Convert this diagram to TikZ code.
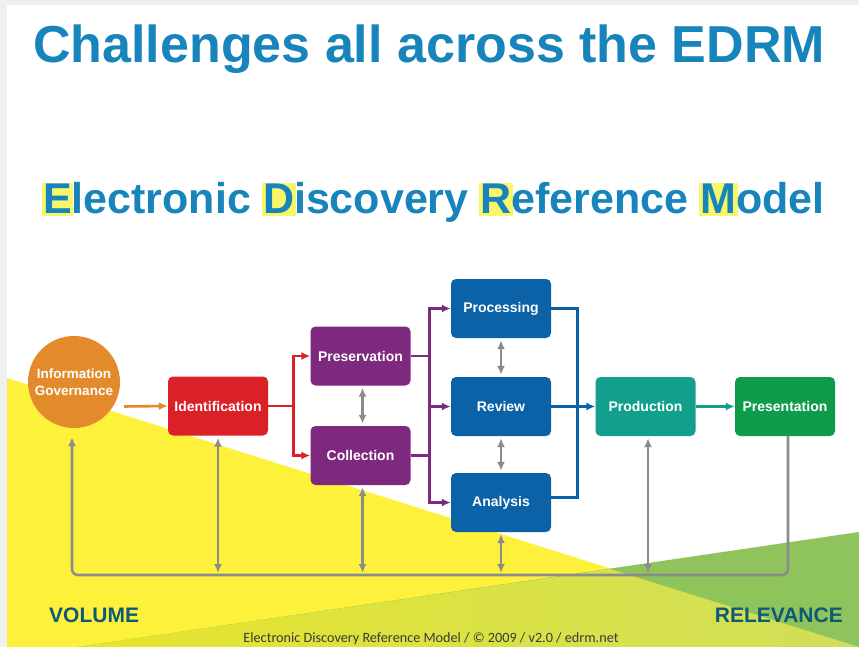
\documentclass[tikz,border=0pt]{standalone}
\usepackage{fontspec}
\setmainfont{Liberation Sans}
\newfontfamily\capfont{Carlito}
\usetikzlibrary{arrows.meta,calc}
\definecolor{bgyel}{HTML}{FDF13B}
\definecolor{bggrn}{HTML}{8FC45C}
\definecolor{ovl}{HTML}{E6E42C}
\definecolor{ovr}{HTML}{CFDF5A}
\definecolor{titleblue}{HTML}{1784BC}
\definecolor{hly}{HTML}{F8F66A}
\definecolor{cOrange}{HTML}{E38B2C}
\definecolor{cRed}{HTML}{DA2128}
\definecolor{cPurple}{HTML}{7D2A7E}
\definecolor{cBlue}{HTML}{0B62A6}
\definecolor{cTeal}{HTML}{12A08C}
\definecolor{cGreen}{HTML}{0E9B4B}
\definecolor{cGray}{HTML}{8C8C8C}
\definecolor{lblue}{HTML}{0E5878}
\definecolor{capgray}{HTML}{3A3A3A}
\newcommand{\hlet}[1]{\setbox0\hbox{#1}\rlap{\kern-1.5pt\textcolor{hly}{\rule[-2pt]{\dimexpr\wd0+3pt\relax}{\dimexpr\ht0+3.5pt\relax}}}\box0}
\tikzset{
  stagebox/.style={rectangle, rounded corners=5pt, minimum width=100pt, minimum height=59pt,
    inner sep=0pt, text=white, font=\bfseries\fontsize{14}{16}\selectfont},
  conn/.style={line width=2.6pt, -{Latex[length=9pt,width=8pt]}},
  plainconn/.style={line width=2.6pt},
  twoway/.style={line width=2.6pt, cGray, {Latex[length=9pt,width=8pt]}-{Latex[length=9pt,width=8pt]}},
}
\begin{document}
\begin{tikzpicture}[x=1pt,y=-1pt]
\useasboundingbox (0,0) rectangle (859,647);
% background
\fill[white] (0,0) rectangle (859,647);
\fill[gray!12] (0,0) rectangle (859,5);
\fill[gray!12] (0,0) rectangle (7,647);
\fill[bgyel] (7,378) -- (7,647) -- (859,647) -- cycle;
\fill[bggrn] (859,532) -- (859,647) -- (77,647) -- cycle;
\shade[left color=ovl, right color=ovr] (77,647) -- (610,569) -- (859,647) -- cycle;
% titles
\node[anchor=base west, inner sep=0pt, text=titleblue, font=\bfseries\fontsize{52}{60}\selectfont] (title) at (33,63) {Challenges all across the EDRM};
\node[anchor=base west, inner sep=0pt, text=titleblue, font=\bfseries\fontsize{43}{50}\selectfont] (subtitle) at (43,214)
  {\hlet{E}lectronic \hlet{D}iscovery \hlet{R}eference \hlet{M}odel};
% nodes
\node[circle, fill=cOrange, minimum size=92pt, inner sep=0pt, text=white, align=center,
  font=\bfseries\fontsize{13.5}{17}\selectfont] (ig) at (74,382) {Information\\Governance};
\node[stagebox, fill=cRed] (id) at (218,406) {Identification};
\node[stagebox, fill=cPurple] (pres) at (360.5,356) {Preservation};
\node[stagebox, fill=cPurple] (coll) at (360.5,455.5) {Collection};
\node[stagebox, fill=cBlue] (proc) at (501,308.5) {Processing};
\node[stagebox, fill=cBlue] (rev) at (501,406.5) {Review};
\node[stagebox, fill=cBlue] (anal) at (501,502.5) {Analysis};
\node[stagebox, fill=cTeal] (prod) at (645.5,406.5) {Production};
\node[stagebox, fill=cGreen] (presn) at (785,406.5) {Presentation};
% orange
\coordinate (igout) at (124,406.5);
\draw[conn, cOrange] (igout) -- (id.west);
% red fork
\draw[plainconn, cRed] (id.east) -- ++(25,0) coordinate (rf);
\draw[conn, cRed] (rf) |- (pres.west);
\draw[conn, cRed] (rf) |- (coll.west);
% purple fork
\draw[plainconn, cPurple] (pres.east) -- ++(19,0) coordinate (pf1);
\draw[plainconn, cPurple] (coll.east) -- ++(19,0) coordinate (pf2);
\draw[plainconn, cPurple] (pf1) -- (pf2);
\draw[conn, cPurple] (pf1) |- (proc.west);
\draw[conn, cPurple] (pf2) |- (anal.west);
\draw[conn, cPurple] (pf1 |- rev.west) -- (rev.west);
% blue bracket
\draw[plainconn, cBlue] (proc.east) -- ++(26,0) coordinate (bf) |- ([yshift=5pt]anal.east);
\draw[conn, cBlue] (rev.east) -- (prod.west);
% teal
\draw[conn, cTeal] (prod.east) -- (presn.west);
% gray two-way between stages
\draw[twoway] ([xshift=2pt,yshift=-2pt]pres.south) -- ([xshift=2pt,yshift=2pt]coll.north);
\draw[twoway] ([yshift=-2pt]proc.south) -- ([yshift=2pt]rev.north);
\draw[twoway] ([yshift=-2pt]rev.south) -- ([yshift=2pt]anal.north);
% bottom loop
\coordinate (loopL) at (72,575);
\coordinate (loopR) at (788,575);
\draw[conn, cGray, rounded corners=6pt] (presn.south -| loopR) -- (loopR) -- (loopL) -- ([yshift=-9pt]ig.south -| loopL);
\draw[twoway, shorten >=2pt] ([yshift=-2pt]id.south) -- (id.south |- loopL);
\draw[twoway, shorten >=2pt] ([xshift=2pt,yshift=-2pt]coll.south) -- ([xshift=2pt]coll.south |- loopL);
\draw[twoway, shorten >=2pt] ([yshift=-2pt]anal.south) -- (anal.south |- loopL);
\draw[twoway, shorten >=2pt] ([xshift=2.5pt,yshift=-2pt]prod.south) -- ([xshift=2.5pt]prod.south |- loopL);
% labels
\node[anchor=base west, inner sep=0pt, text=lblue, font=\bfseries\fontsize{21}{24}\selectfont] (vol) at (49,622) {VOLUME};
\node[anchor=base east, inner sep=0pt, text=lblue, font=\bfseries\fontsize{21}{24}\selectfont] (relv) at (843,622) {RELEVANCE};
\node[anchor=base, inner sep=0pt, text=capgray, font=\capfont\fontsize{14.2}{17}\selectfont] (cap) at (431,642) {Electronic Discovery Reference Model / © 2009 / v2.0 / edrm.net};
\end{tikzpicture}
\end{document}
